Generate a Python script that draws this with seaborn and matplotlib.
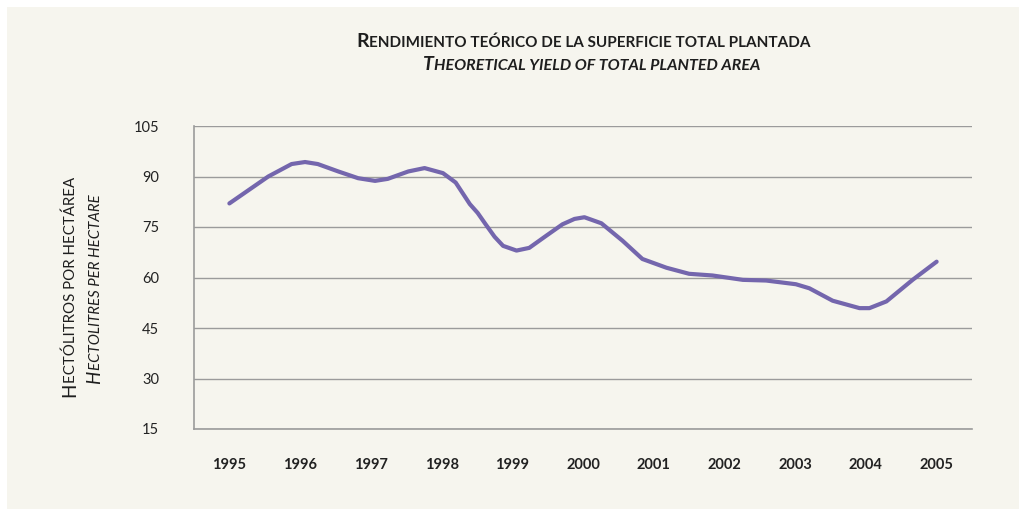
import matplotlib
matplotlib.use("Agg")
import matplotlib.pyplot as plt
from matplotlib.patches import Rectangle
import seaborn as sns

# values (year position, hectolitres per hectare)
year_pos = [1995.00, 1995.55, 1995.88, 1996.07, 1996.25, 1996.54, 1996.82,
            1997.06, 1997.24, 1997.53, 1997.76, 1998.02, 1998.20, 1998.30,
            1998.40, 1998.51, 1998.63, 1998.75, 1998.87, 1999.06, 1999.24,
            1999.48, 1999.71, 1999.88, 2000.02, 2000.26, 2000.56, 2000.84,
            2001.18, 2001.50, 2001.83, 2002.26, 2002.59, 2003.01, 2003.20,
            2003.53, 2003.91, 2004.05, 2004.29, 2004.66, 2005.00]
yield_hl = [82.0, 90.0, 93.7, 94.3, 93.7, 91.5, 89.5,
            88.7, 89.3, 91.5, 92.5, 91.0, 88.2, 85.0,
            81.8, 79.2, 75.6, 72.1, 69.4, 68.0, 68.8,
            72.4, 75.8, 77.4, 77.9, 76.1, 70.9, 65.5,
            62.9, 61.1, 60.6, 59.3, 59.1, 58.0, 56.8,
            53.1, 50.9, 50.9, 52.9, 59.3, 64.7]
years = list(range(1995, 2006))
y_ticks = [15, 30, 45, 60, 75, 90, 105]

title_es = "Rendimiento teórico de la superficie total plantada"
title_en = "Theoretical yield of total planted area"
ylab_es = "Hectólitros por hectárea"
ylab_en = "Hectolitres per hectare"

BG = "#f6f5ee"
LINE = "#7466ad"
GRID = "#9b9b9b"
W, H = 1026, 514

sns.set_style("white")
plt.rcParams["font.family"] = ["Lato", "DejaVu Sans"]

fig = plt.figure(figsize=(W / 100, H / 100), dpi=100)
fig.patch.set_facecolor("white")
fig.add_artist(Rectangle((7 / W, 1 - 509 / H), 1012 / W, 502 / H,
                         transform=fig.transFigure, facecolor=BG,
                         edgecolor="none", zorder=0))

ax = fig.add_axes([194 / W, 1 - 429 / H, 778 / W, 303 / H])
ax.set_facecolor(BG)

sns.lineplot(x=year_pos, y=yield_hl, ax=ax, color=LINE, linewidth=3,
             estimator=None, sort=False)

ax.set_xlim(1994.5, 2005.5)
ax.set_ylim(15, 105)
ax.set_yticks(y_ticks)
ax.set_yticklabels([str(v) for v in y_ticks], fontsize=10.5, color="#222222")
ax.set_xticks([y - 0.5 for y in years] + [2005.5])
ax.set_xticklabels([])
ax.set_xticks(years, minor=True)
ax.set_xticklabels([str(y) for y in years], minor=True, fontsize=10.5,
                   color="#222222", fontweight="bold")
ax.tick_params(axis="x", which="major", length=5, width=1, color=GRID)
ax.tick_params(axis="x", which="minor", length=0, pad=21)
ax.tick_params(axis="y", length=4, width=1, color=GRID, pad=21)
ax.grid(axis="y", color=GRID, linewidth=1)
ax.set_axisbelow(True)
for s in ["top", "right"]:
    ax.spines[s].set_visible(False)
for s in ["left", "bottom"]:
    ax.spines[s].set_color(GRID)
    ax.spines[s].set_linewidth(1.2)
ax.set_xlabel("")
ax.set_ylabel("")

renderer = fig.canvas.get_renderer()


def small_caps(cx, cy, text, big, small, vertical=False, **kw):
    # first letter large, the rest as smaller capitals; cx, cy in pixels
    rot = 90 if vertical else 0
    t1 = fig.text(0, 0, text[0], fontsize=big, ha="left", va="baseline",
                  rotation=rot, rotation_mode="anchor", **kw)
    t2 = fig.text(0, 0, text[1:].upper(), fontsize=small, ha="left",
                  va="baseline", rotation=rot, rotation_mode="anchor", **kw)
    e1 = t1.get_window_extent(renderer)
    e2 = t2.get_window_extent(renderer)
    if vertical:
        l1, l2 = e1.height, e2.height
        start = cy + (l1 + l2) / 2
        t1.set_position((cx / W, 1 - start / H))
        t2.set_position((cx / W, 1 - (start - l1) / H))
    else:
        l1, l2 = e1.width, e2.width
        start = cx - (l1 + l2) / 2
        t1.set_position((start / W, 1 - cy / H))
        t2.set_position(((start + l1) / W, 1 - cy / H))


small_caps(583, 47, title_es, 14, 11, fontweight="bold", color="#1e1e1e")
small_caps(592, 70, title_en, 14, 11.5, fontstyle="italic",
           fontweight="bold", color="#1e1e1e")
small_caps(75, 287, ylab_es, 13.5, 10.8, vertical=True, color="#1e1e1e")
small_caps(100, 289, ylab_en, 13.5, 10.8, vertical=True, fontstyle="italic",
           color="#1e1e1e")

fig.savefig("out.png", dpi=100, facecolor=fig.get_facecolor())
